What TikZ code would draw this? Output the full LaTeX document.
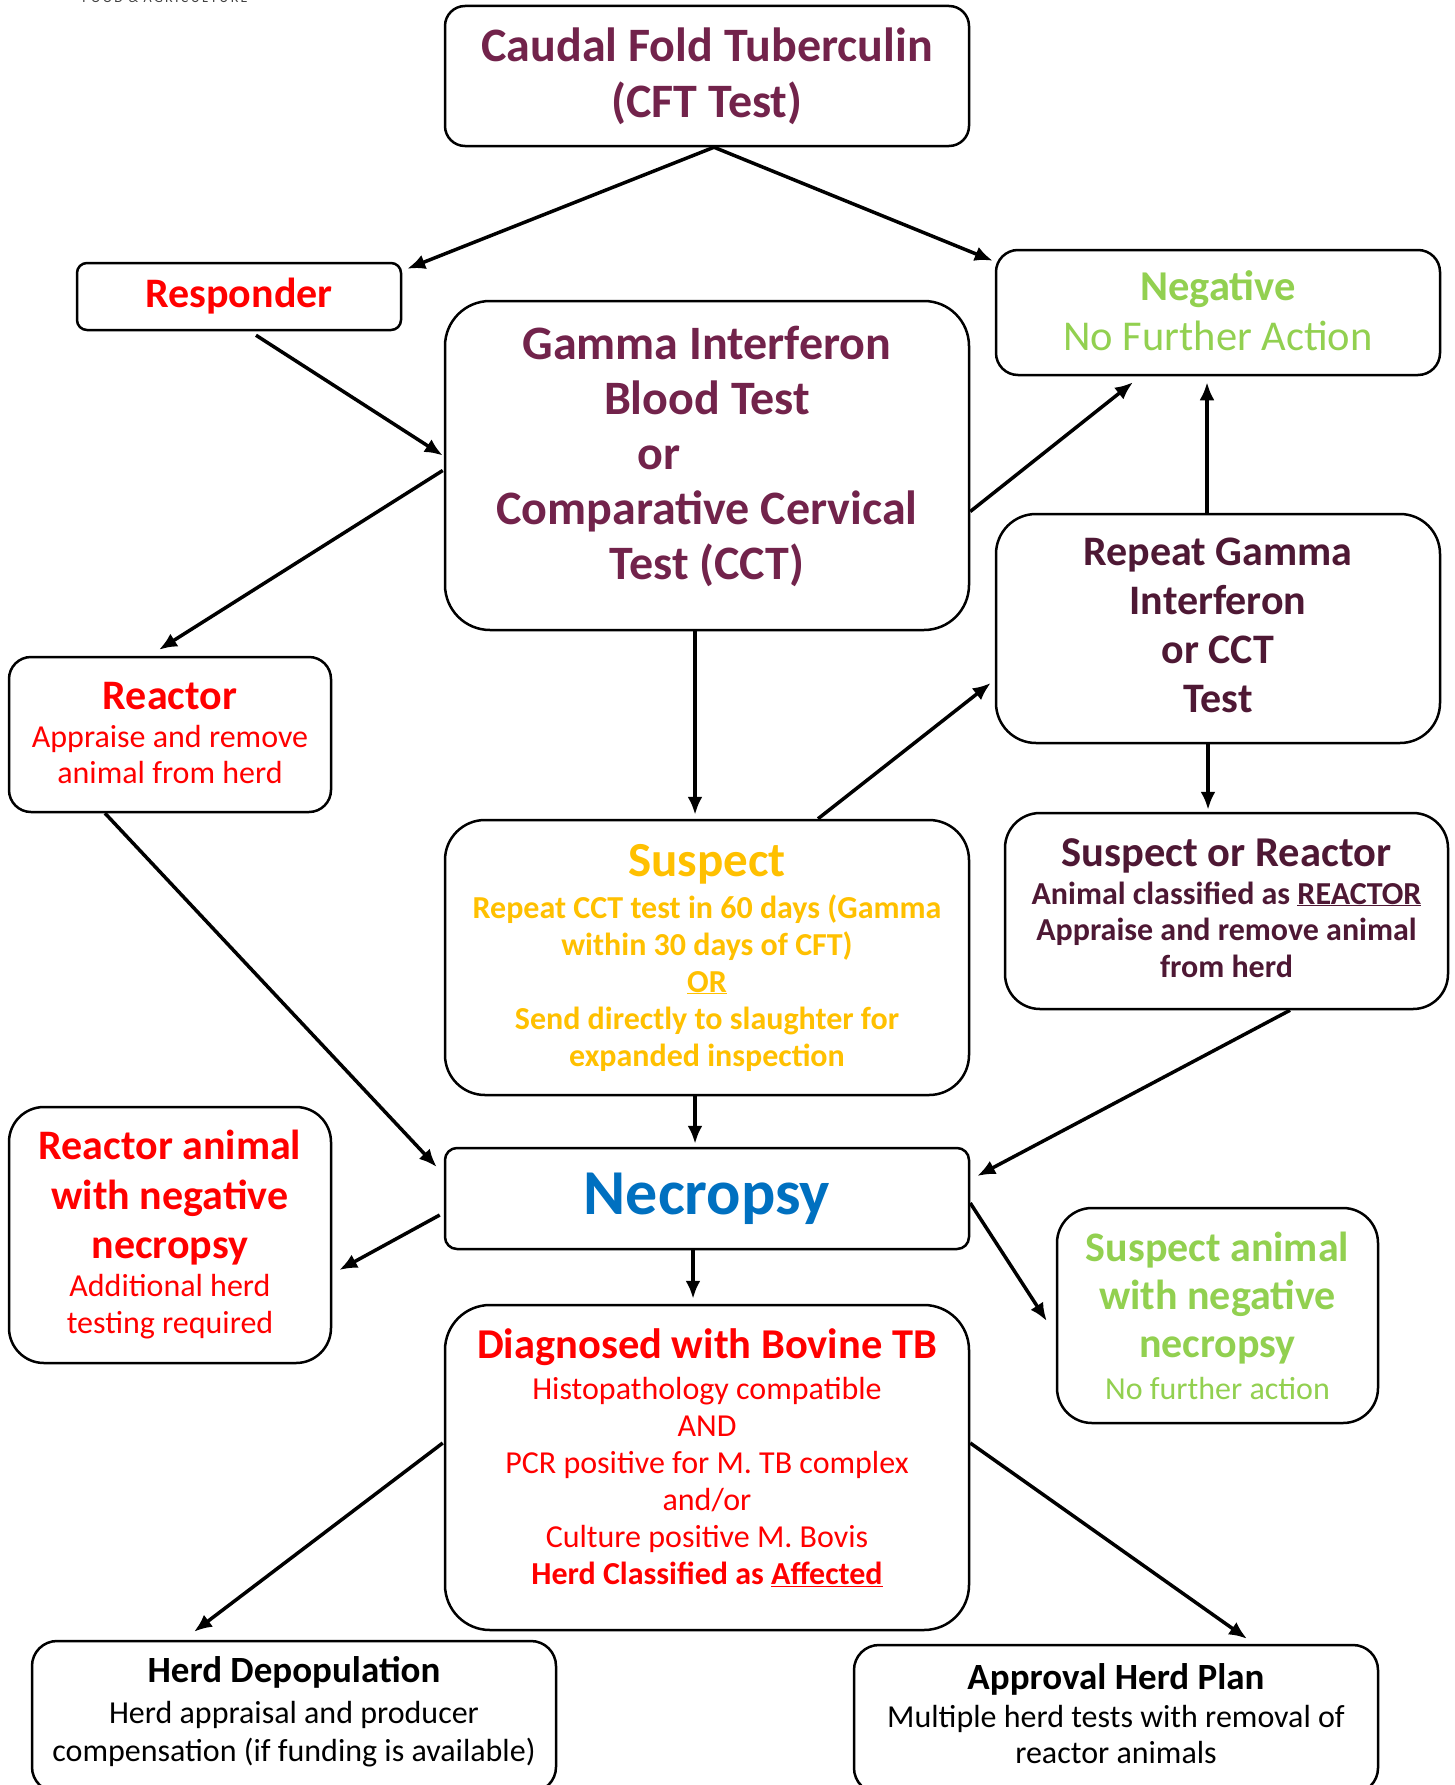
\documentclass[tikz,border=0pt]{standalone}
\usepackage{fontspec}
\setmainfont{Carlito}
\usetikzlibrary{arrows.meta,calc}
\definecolor{cpurple}{RGB}{114,35,75}
\definecolor{dpurple}{RGB}{78,24,52}
\definecolor{cgreen}{RGB}{146,208,80}
\definecolor{cyellow}{RGB}{255,192,0}
\definecolor{cblue}{RGB}{0,112,192}
\definecolor{cred}{RGB}{255,0,0}
\newcommand{\fs}[2]{\fontsize{#1pt}{#2pt}\selectfont}
\begin{document}
\begin{tikzpicture}[x=1pt,y=-1pt,
  box/.style={draw=black,line width=2.5pt,fill=white,inner sep=0pt,align=flush center},
  arr/.style={line width=3.5pt,-{Latex[length=18pt,width=15pt]}}]
\clip (0,0) rectangle (1454,1785);
\fill[white] (0,0) rectangle (1454,1785);

\node[anchor=base,text=black!75,font=\fs{14}{16}] (logo) at (165,3) {F\,O\,O\,D\,\ \&\ \,A\,G\,R\,I\,C\,U\,L\,T\,U\,R\,E};

\node[box,rounded corners=20pt,minimum width=524pt,minimum height=140pt,text width=514pt,text=cpurple,font=\fs{48}{56}\bfseries] (cft) at (707,76) {Caudal Fold Tuberculin\\(CFT Test)};

\node[box,rounded corners=10pt,minimum width=324pt,minimum height=67pt,text width=314pt,text=cred,font=\fs{42}{49}\bfseries] (resp) at (239,296.5) {Responder};

\node[box,rounded corners=22pt,minimum width=444pt,minimum height=125pt,text width=434pt,text=cgreen,font=\fs{42.5}{50}] (neg) at (1218,312.5) {{\bfseries Negative}\\No Further Action\par\vspace*{3pt}};

\node[box,rounded corners=45pt,minimum width=524pt,minimum height=329pt,text width=514pt,text=cpurple,font=\fs{48}{55}\bfseries] (gamma) at (707,465.5) {Gamma Interferon\\Blood Test\\\mbox{or\kern96pt}\\Comparative Cervical\\Test (CCT)\par\vspace*{18pt}};

\node[box,rounded corners=22pt,minimum width=322pt,minimum height=155pt,text width=312pt,text=cred] (reac) at (170,734.5) {{\fs{42}{49}\bfseries Reactor\par}\vspace{2pt}{\fs{32}{36}Appraise and remove\\animal from herd\par}\vspace*{4pt}};

\node[box,rounded corners=40pt,minimum width=444pt,minimum height=229pt,text width=434pt,text=dpurple,font=\fs{42}{49}\bfseries] (rep) at (1218,628.5) {Repeat Gamma\\Interferon\\or CCT\\Test\par\vspace*{7pt}};

\node[box,rounded corners=40pt,minimum width=524pt,minimum height=275pt,text width=514pt,text=cyellow] (susp) at (707,957.5) {{\fs{49}{55}\bfseries Suspect\par}\vspace{5pt}{\fs{32}{37}\bfseries Repeat CCT test in 60 days (Gamma\\within 30 days of CFT)\\\underline{OR}\\Send directly to slaughter for\\expanded inspection\par}};

\node[box,rounded corners=35pt,minimum width=443pt,minimum height=196pt,text width=433pt,text=dpurple] (sr) at (1226.5,911) {{\fs{42.5}{49}\bfseries Suspect or Reactor\par}\vspace{1pt}{\fs{32}{36.5}\bfseries Animal classified as \underline{REACTOR}\\Appraise and remove animal\\from herd\par}\vspace*{6pt}};

\node[box,rounded corners=35pt,minimum width=322pt,minimum height=256pt,text width=312pt,text=cred] (rneg) at (170,1235) {{\fs{42}{49.5}\bfseries Reactor animal\\with negative\\necropsy\par}\vspace{1pt}{\fs{32}{37}Additional herd\\testing required\par}};

\node[box,rounded corners=12pt,minimum width=524pt,minimum height=101pt,text width=514pt,text=cblue,font=\fs{64}{70}\bfseries] (necro) at (707,1198.5) {Necropsy};

\node[box,rounded corners=35pt,minimum width=321pt,minimum height=215pt,text width=311pt,text=cgreen] (sneg) at (1217.5,1315.5) {{\fs{42}{48}\bfseries Suspect animal\\with negative\\necropsy\par}\vspace{5pt}{\fs{32}{37}No further action\par}};

\node[box,rounded corners=45pt,minimum width=524pt,minimum height=325pt,text width=514pt,text=cred] (diag) at (707,1467.5) {{\fs{42.5}{49}\bfseries Diagnosed with Bovine TB\par}\vspace{4pt}{\fs{32}{37}Histopathology compatible\\AND\\PCR positive for M. TB complex\\and/or\\Culture positive M. Bovis\\{\bfseries Herd Classified as \underline{Affected}}\par}\vspace*{20pt}};

\node[box,rounded corners=25pt,minimum width=524pt,minimum height=151pt,text width=514pt,text=black] (herd) at (294,1716.5) {{\fs{37}{43}\bfseries Herd Depopulation\par}\vspace{3pt}{\fs{32}{38}Herd appraisal and producer\\compensation (if funding is available)\par}\vspace*{9pt}};

\node[box,rounded corners=25pt,minimum width=524pt,minimum height=148pt,text width=514pt,text=black] (appr) at (1116,1719) {{\fs{37}{43}\bfseries Approval Herd Plan\par}\vspace{2pt}{\fs{32}{36}Multiple herd tests with removal of\\reactor animals\par}\vspace*{10pt}};

% connectors
\coordinate (apex) at ($(cft.south)+(7,0)$);
\draw[arr] (apex) -- ($(resp.north east)+(5,7)$);
\draw[arr] (apex) -- ($(neg.north west)+(-2,12)$);
\draw[arr] ($(resp.south)+(17,4)$) -- ($(gamma.west)+(-1,-10)$);
\draw[arr] ($(gamma.west)+(-1,5)$) -- ($(reac.north)+(-11,-6)$);
\draw[arr] ($(gamma.east)+(0,46)$) -- ($(neg.south)+(-85,6)$);
\draw[arr] ($(rep.north)+(-11,0)$) -- ($(neg.south)+(-11,6)$);
\draw[arr] ($(gamma.south)+(-12,0)$) -- ($(susp.north)+(-12,-4)$);
\draw[arr] ($(susp.north)+(111,0)$) -- ($(rep.west)+(-4,54.5)$);
\draw[arr] ($(rep.south)+(-10,0)$) -- ($(sr.north)+(-18.5,-2)$);
\draw[arr] ($(reac.south)+(-65,0)$) -- ($(necro.west)+(-7,-31.5)$);
\draw[arr] ($(susp.south)+(-12,0)$) -- ($(necro.north)+(-12,-3)$);
\draw[arr] ($(sr.south)+(63.5,0)$) -- ($(necro.east)+(7,-22.5)$);
\draw[arr] ($(necro.west)+(-4,16.5)$) -- ($(rneg.east)+(7,35)$);
\draw[arr] ($(necro.east)+(0,4.5)$) -- ($(sneg.west)+(-9,5.5)$);
\draw[arr] ($(necro.south)+(-14,0)$) -- ($(diag.north)+(-14,-5)$);
\draw[arr] ($(diag.west)+(-1,-24.5)$) -- ($(herd.north)+(-100,-8)$);
\draw[arr] ($(diag.east)+(0,-24.5)$) -- ($(appr.north)+(131,-5)$);
\end{tikzpicture}
\end{document}
